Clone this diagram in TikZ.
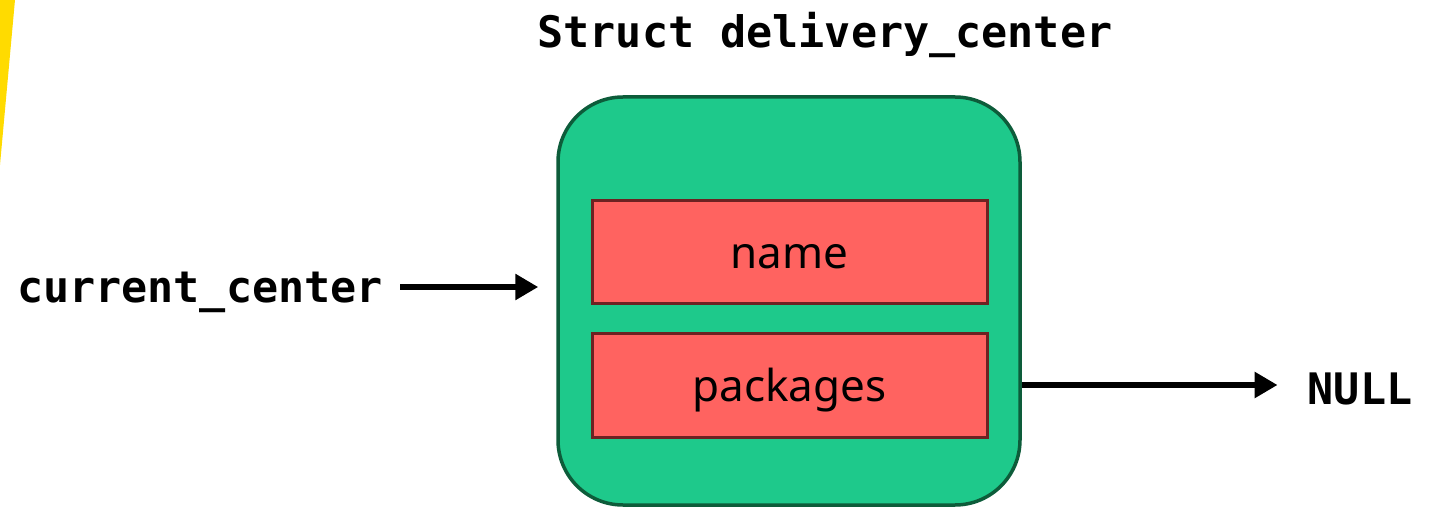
\documentclass[tikz,border=0pt]{standalone}
\usepackage{fontspec}
\setmainfont{Noto Sans}
\newfontfamily\monob{DejaVu Sans Mono}
\usetikzlibrary{arrows.meta}
\definecolor{ylw}{HTML}{FFDB00}
\definecolor{grnfill}{HTML}{1EC98B}
\definecolor{grndraw}{HTML}{0D5C3A}
\definecolor{redfill}{HTML}{FF6360}
\definecolor{reddraw}{HTML}{6D2222}
\tikzset{
  codelbl/.style={inner sep=0pt, font=\monob\bfseries\fontsize{43.4}{50}\selectfont},
  field/.style={draw=reddraw, fill=redfill, line width=3pt, minimum width=395pt, inner sep=0pt, text height=33pt, text depth=0pt, font=\fontsize{44}{50}\selectfont},
  structbox/.style={draw=grndraw, fill=grnfill, line width=3.5pt, rounded corners=65pt, minimum width=462pt, minimum height=408pt, inner sep=0pt},
  arr/.style={line width=6pt, -{Triangle[length=23pt,width=25pt]}}
}
\begin{document}
\begin{tikzpicture}[x=1pt,y=-1pt]
\useasboundingbox (0,0) rectangle (1433,508);
\fill[ylw] (0,0) -- (15,0) -- (0,165) -- cycle;
\node[codelbl] (title) at (825,35) {Struct delivery\_center};
\node[structbox] (box) at (789,301) {};
\node[field, minimum height=103pt] (name) at (789.5,251.5) {name};
\node[field, minimum height=104pt] (pkg) at (789.5,385) {packages};
\node[codelbl] (cc) at (200,292) {current\_center};
\node[codelbl] (null) at (1360,389) {NULL};
\draw[arr, shorten <=17pt, shorten >=18pt] ([yshift=5pt]cc.east) -- ([yshift=5pt]cc.east -| box.west);
\draw[arr, shorten >=30pt] ([yshift=4pt]box.east |- null.west) -- ([yshift=4pt]null.west);
\end{tikzpicture}
\end{document}
